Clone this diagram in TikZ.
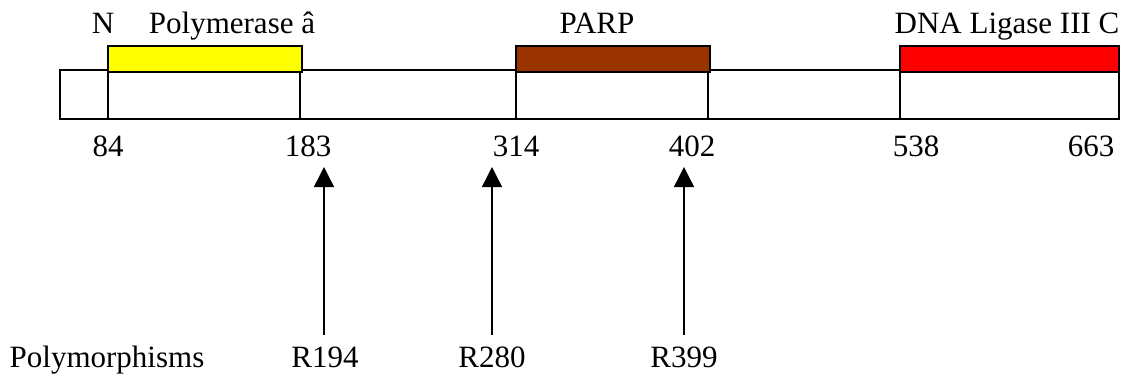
\documentclass[tikz,border=0pt]{standalone}
\usepackage{fontspec}
\setmainfont{Liberation Serif}
\usetikzlibrary{arrows.meta}
\definecolor{parpbrown}{RGB}{153,51,0}
\definecolor{ligred}{RGB}{255,0,0}
\definecolor{polyellow}{RGB}{255,255,0}
\begin{document}
\begin{tikzpicture}[x=1pt,y=-1pt,line width=1.5pt,
  lbl/.style={font=\fontsize{31}{37}\selectfont,inner sep=0pt,anchor=base},
  dombox/.style={draw=black,line width=1.8pt},
  marker/.style={-{Triangle[width=20pt,length=20pt]},line width=1.5pt}]
\useasboundingbox (0,0) rectangle (1123,383);
% main bar
\draw[fill=white] (60,70) rectangle (1119,119);
% domain boundaries
\foreach \x in {108,300,516,708,900}{\draw (\x,72) -- (\x,119);}
% domains
\draw[dombox,fill=polyellow] (108,46) rectangle (302,72);
\draw[dombox,fill=parpbrown] (516,46) rectangle (710,72);
\draw[dombox,fill=ligred] (900,46) rectangle (1119,72);
% top labels
\node[lbl] (n) at (103,33) {N};
\node[lbl] (pol) at (232,33) {Polymerase â};
\node[lbl] (parp) at (597,33) {PARP};
\node[lbl] (lig) at (1007,33) {DNA Ligase III C};
% numbers
\node[lbl] (p84) at (108,156) {84};
\node[lbl] (p183) at (308,156) {183};
\node[lbl] (p314) at (516,156) {314};
\node[lbl] (p402) at (692,156) {402};
\node[lbl] (p538) at (916,156) {538};
\node[lbl] (p663) at (1091,156) {663};
% bottom labels
\node[lbl] (poly) at (107,367) {Polymorphisms};
\node[lbl] (r194) at (325,367) {R194};
\node[lbl] (r280) at (492,367) {R280};
\node[lbl] (r399) at (684,367) {R399};
% arrow tips
\coordinate (t194) at (324,167);
\coordinate (t280) at (492,167);
\coordinate (t399) at (684,167);
\coordinate (b194) at (324,335);
\coordinate (b280) at (492,335);
\coordinate (b399) at (684,335);
\draw[marker] (b194) -- (t194);
\draw[marker] (b280) -- (t280);
\draw[marker] (b399) -- (t399);
\end{tikzpicture}
\end{document}
